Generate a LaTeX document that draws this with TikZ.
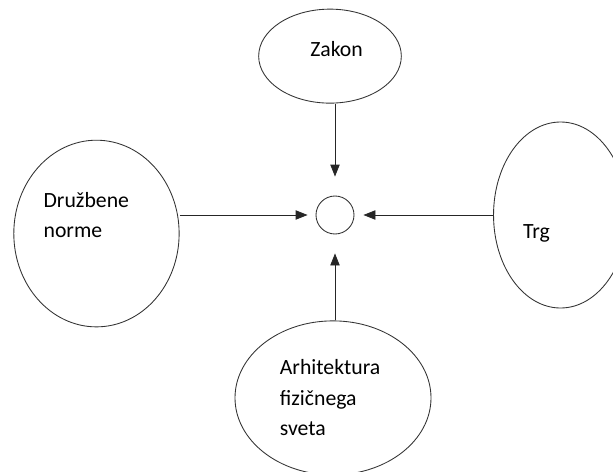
\documentclass[tikz,border=0pt]{standalone}
\usepackage{fontspec}
\setmainfont{Carlito}
\usetikzlibrary{positioning,shapes.geometric,arrows.meta}

\begin{document}
\begin{tikzpicture}[
	oval/.style={draw=black!80, line width=0.65pt, ellipse, inner sep=0pt},
	lbl/.style={inner sep=0pt, align=left, text=black, font=\fontsize{16.3}{22.9}\selectfont},
	arr/.style={draw=black!85, line width=0.65pt, -{Triangle[length=9pt,width=7pt]}}
	]
	\useasboundingbox (0,0) rectangle (459.75pt,-353.25pt);
	
	\node [draw=black!80, line width=0.65pt, circle, minimum size=28.5pt, inner sep=0pt] (hub) at (251.25pt,-161.25pt) {};
	\node [oval, minimum width=107pt, minimum height=70.5pt, above=69pt of hub, xshift=-3.75pt] (zakon) {};
	\node [oval, minimum width=124pt, minimum height=140pt, left=102pt of hub, yshift=-13.9pt] (norme) {};
	\node [oval, minimum width=100.5pt, minimum height=139.5pt, right=104pt of hub] (trg) {};
	\node [oval, minimum width=147pt, minimum height=115.5pt, below=64.5pt of hub, xshift=-1.5pt] (arh) {};
	
	% labels
	\node [lbl] (zakon-txt) at ([xshift=4.9pt,yshift=5.3pt]zakon.center) {Zakon};
	\node [lbl, anchor=west] (norme-txt) at ([xshift=22.5pt,yshift=13.9pt]norme.west) {Družbene\\norme};
	\node [lbl] (trg-txt) at ([xshift=-18pt,yshift=-13.5pt]trg.center) {Trg};
	\node [lbl, anchor=west] (arh-txt) at ([xshift=33.75pt]arh.west) {Arhitektura\\fizičnega\\sveta};
	
	\draw [arr, shorten >=14.25pt] (zakon.south -| hub.center) -- (hub.north);
	\draw [arr, shorten >=14.25pt] (arh.north -| hub.center) -- (hub.south);
	\draw [arr, shorten >=6pt] (norme.east |- hub.center) -- (hub.west);
	\draw [arr, shorten >=6.75pt] (trg.west |- hub.center) -- (hub.east);
\end{tikzpicture}
\end{document}
